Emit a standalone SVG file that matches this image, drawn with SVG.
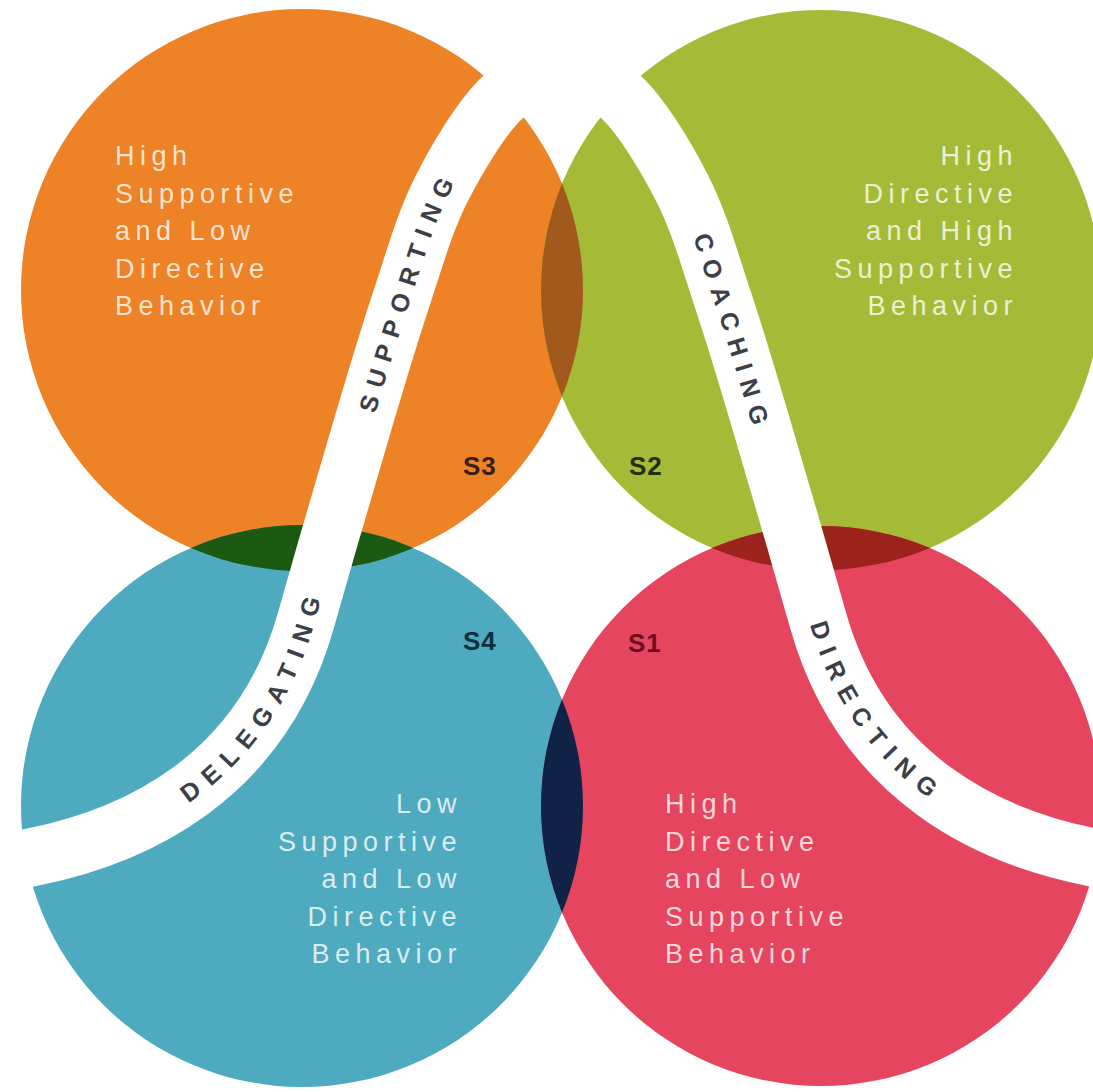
<svg xmlns="http://www.w3.org/2000/svg" xmlns:xlink="http://www.w3.org/1999/xlink" width="1093" height="1092" viewBox="0 0 1093 1092">
  <style>
    .desc { font-family: "Liberation Sans", Arial, sans-serif; font-size: 27px; letter-spacing: 5.5px; fill: #ffffff; fill-opacity: 0.8; }
    .end { text-anchor: end; }
    .stage { font-family: "Liberation Sans", Arial, sans-serif; font-size: 26px; font-weight: bold; letter-spacing: 1px; }
    .band-label { font-family: "Liberation Sans", Arial, sans-serif; font-size: 25px; font-weight: bold; letter-spacing: 9px; fill: #3c4046; text-anchor: middle; }
  </style>
  <defs>
    <clipPath id="clip-orange"><circle cx="302" cy="290" r="281"/></clipPath>
    <clipPath id="clip-red"><circle cx="821" cy="806" r="280"/></clipPath>
    <!-- centre line of the white bell-shaped band -->
    <path id="bell" d="M -60 876 C -29 870 3 863 33 857 C 133 837 261 780 306 620 C 324 556 348.2 473.3 364 420 C 379.8 366.7 388.2 338.3 401 300 C 413.8 261.7 424 223.8 441 190 C 458 156.2 482.8 115.7 503 97 C 523.2 78.3 542.3 78 562 78 C 581.7 78 600.8 78.3 621 97 C 641.2 115.7 666 156.2 683 190 C 700 223.8 710.2 261.7 723 300 C 735.8 338.3 744.2 366.7 760 420 C 775.8 473.3 800 556 818 620 C 863 780 991 837 1091 857 C 1121 863 1153 870 1184 876"/>
  </defs>

  <rect width="1093" height="1092" fill="#ffffff"/>

  <!-- S3: supporting -->
  <g id="s3">
    <circle cx="302" cy="290" r="281" fill="#ee8226"/>
    <text class="desc" x="115" y="165">High</text>
    <text class="desc" x="115" y="202.5">Supportive</text>
    <text class="desc" x="115" y="240">and Low</text>
    <text class="desc" x="115" y="277.5">Directive</text>
    <text class="desc" x="115" y="315">Behavior</text>
  </g>

  <!-- S2: coaching -->
  <g id="s2">
    <circle cx="821" cy="290" r="280" fill="#a5bb38"/>
    <text class="desc end" x="1018" y="165">High</text>
    <text class="desc end" x="1018" y="202.5">Directive</text>
    <text class="desc end" x="1018" y="240">and High</text>
    <text class="desc end" x="1018" y="277.5">Supportive</text>
    <text class="desc end" x="1018" y="315">Behavior</text>
  </g>

  <!-- S4: delegating -->
  <g id="s4">
    <circle cx="302" cy="806" r="281" fill="#4eaabf"/>
    <text class="desc end" x="462" y="813">Low</text>
    <text class="desc end" x="462" y="850.5">Supportive</text>
    <text class="desc end" x="462" y="888">and Low</text>
    <text class="desc end" x="462" y="925.5">Directive</text>
    <text class="desc end" x="462" y="963">Behavior</text>
  </g>

  <!-- S1: directing -->
  <g id="s1">
    <circle cx="821" cy="806" r="280" fill="#e6455f"/>
    <text class="desc" x="665" y="813">High</text>
    <text class="desc" x="665" y="850.5">Directive</text>
    <text class="desc" x="665" y="888">and Low</text>
    <text class="desc" x="665" y="925.5">Supportive</text>
    <text class="desc" x="665" y="963">Behavior</text>
  </g>

  <!-- overlaps between neighbouring circles -->
  <g id="overlaps">
    <circle cx="821" cy="290" r="280" fill="#a15a1c" clip-path="url(#clip-orange)"/>
    <circle cx="302" cy="806" r="281" fill="#1c5912" clip-path="url(#clip-orange)"/>
    <circle cx="821" cy="290" r="280" fill="#9b231b" clip-path="url(#clip-red)"/>
    <circle cx="302" cy="806" r="281" fill="#102246" clip-path="url(#clip-red)"/>
  </g>

  <!-- white band with the four style names -->
  <g id="connectors">
    <use xlink:href="#bell" href="#bell" fill="none" stroke="#ffffff" stroke-width="58"/>
    <text class="band-label" dy="9"><textPath xlink:href="#bell" href="#bell" startOffset="384">DELEGATING</textPath></text>
    <text class="band-label" dy="9"><textPath xlink:href="#bell" href="#bell" startOffset="822">SUPPORTING</textPath></text>
    <text class="band-label" dy="9"><textPath xlink:href="#bell" href="#bell" startOffset="1432">COACHING</textPath></text>
    <text class="band-label" dy="9"><textPath xlink:href="#bell" href="#bell" startOffset="1842">DIRECTING</textPath></text>
  </g>

  <!-- stage numbers -->
  <g id="stage-labels">
    <text class="stage" x="463" y="475" fill="#3a1f0c">S3</text>
    <text class="stage" x="629" y="475" fill="#22300d">S2</text>
    <text class="stage" x="463" y="650" fill="#0e2f3c">S4</text>
    <text class="stage" x="628" y="652" fill="#6c0d20">S1</text>
  </g>
</svg>
